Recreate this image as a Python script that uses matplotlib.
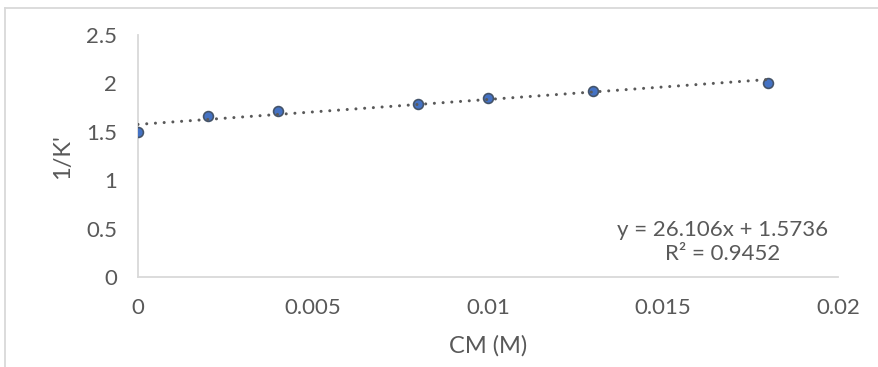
import numpy as np
import matplotlib
matplotlib.use("Agg")
import matplotlib.pyplot as plt
from matplotlib.lines import Line2D

cm = [0.0, 0.002, 0.004, 0.008, 0.010, 0.013, 0.018]
inv_k = [1.50, 1.663, 1.720, 1.785, 1.853, 1.925, 2.006]
x_ticks = [0, 0.005, 0.01, 0.015, 0.02]
x_tick_labels = ["0", "0.005", "0.01", "0.015", "0.02"]
y_ticks = [0, 0.5, 1, 1.5, 2, 2.5]
y_tick_labels = ["0", "0.5", "1", "1.5", "2", "2.5"]
eq_text = "y = 26.106x + 1.5736\nR² = 0.9452"

plt.rcParams['font.family'] = ['Lato', 'DejaVu Sans']
txt = '#595959'
W, H = 879, 367
fig = plt.figure(figsize=(W/100, H/100), dpi=100)
ax = fig.add_axes([138/W, 1-277/H, (838-138)/W, (277-35)/H])

ax.scatter(cm, inv_k, s=50, color='#4472C4', edgecolor='#44546A', linewidth=1.2, zorder=3)
coef = np.polyfit(cm, inv_k, 1)
xs = np.array([min(cm), max(cm)])
ax.plot(xs, np.polyval(coef, xs), color='#595959', lw=2.2, linestyle=(0, (0.01, 2.85)),
        dash_capstyle='round', zorder=4)

ax.set_xlim(0, 0.02)
ax.set_ylim(0, 2.5)
ax.set_xticks(x_ticks)
ax.set_xticklabels(x_tick_labels)
ax.set_yticks(y_ticks)
ax.set_yticklabels(y_tick_labels)
ax.tick_params(length=0, labelsize=16, labelcolor=txt)
ax.tick_params(axis='x', pad=15)
ax.tick_params(axis='y', pad=15)
for s in ['top', 'right']:
    ax.spines[s].set_visible(False)
for s in ['left', 'bottom']:
    ax.spines[s].set_color('#d9d9d9')
    ax.spines[s].set_linewidth(1.3)

fig.text(63/W, 1-157/H, "1/K'", rotation=90, ha='center', va='center', fontsize=17, color=txt)
fig.text(488/W, 1-346/H, "CM (M)", ha='center', va='center', fontsize=17, color=txt)
fig.text(723/W, 1-242/H, eq_text, ha='center', va='center', fontsize=16, color=txt,
         linespacing=1.3)

fig.add_artist(Line2D([5.5/W, 5.5/W], [0, 1-7.5/H], transform=fig.transFigure, color='#d9d9d9', lw=1.3))
fig.add_artist(Line2D([5.5/W, 1], [1-7.5/H, 1-7.5/H], transform=fig.transFigure, color='#d9d9d9', lw=1.3))

fig.savefig('out.png', dpi=100)
